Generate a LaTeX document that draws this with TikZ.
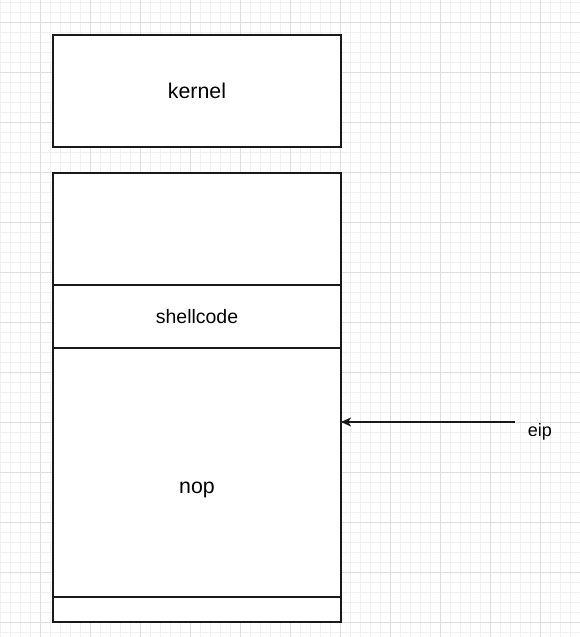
\documentclass[tikz,border=0pt]{standalone}
\usepackage{fontspec}
\setmainfont{Liberation Sans}
\usepackage{tikz}
\usetikzlibrary{arrows.meta}

\begin{document}
\begin{tikzpicture}[x=0.75pt, y=-0.75pt,
    gridminor/.style={draw=black!6, line width=0.75pt},
    gridmajor/.style={draw=black!13, line width=0.75pt},
    cell/.style={draw=black!90, fill=white, line width=1pt, inner sep=0pt, outer sep=0pt, minimum width=216pt},
    big/.style={font=\fontsize{16}{19}\selectfont},
    small/.style={font=\fontsize{14.6}{17}\selectfont}]
    \useasboundingbox (0,0) rectangle (580,637);
    \fill[white] (0,0) rectangle (580,637);
    % grid paper
    \foreach \x in {0,10,...,580} \draw[gridminor] (\x,0) -- (\x,637);
    \foreach \y in {2,12,...,632} \draw[gridminor] (0,\y) -- (580,\y);
    \foreach \x in {40,90,...,540} \draw[gridmajor] (\x,0) -- (\x,637);
    \foreach \y in {22,72,...,622} \draw[gridmajor] (0,\y) -- (580,\y);

    \node[cell, big, minimum height=84pt] (kernel) at (197,91) {kernel};
    \node[cell, minimum height=84pt] (free) at (197,229) {};
    \node[cell, small, minimum height=47.25pt] (shellcode) at (197,316.5) {shellcode};
    \node[cell, big, text depth=0pt, text height=12.8pt, minimum height=205.5pt] (nop) at (197,485) {nop};
    \node[cell, minimum height=18.75pt] (bottom) at (197,609.5) {};

    \coordinate (eiptail) at (515,422);
    \node[font=\fontsize{13.5}{16}\selectfont] (eip) at (540,432) {eip};
    \draw[-{Stealth[length=7.5pt, width=6.75pt, inset=2pt]}, draw=black!90, line width=1pt] (eiptail) -- (eiptail -| nop.east);
\end{tikzpicture}
\end{document}
